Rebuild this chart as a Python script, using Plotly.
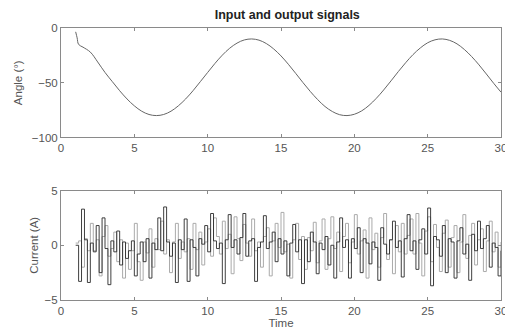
import numpy as np
import plotly.graph_objects as go
from plotly.subplots import make_subplots

# Angle signal (top)
angle_t = [1.0, 1.1, 1.2, 1.5, 2.0, 2.5, 3.0, 3.5, 4.0, 4.5, 5.0, 5.5, 6.0, 6.5, 7.0, 7.5, 8.0, 8.5,
           9.0, 9.5, 10.0, 10.5, 11.0, 11.5, 12.0, 12.5, 13.0, 13.5, 14.0, 14.5, 15.0, 15.5, 16.0,
           16.5, 17.0, 17.5, 18.0, 18.5, 19.0, 19.5, 20.0, 20.5, 21.0, 21.5, 22.0, 22.5, 23.0, 23.5,
           24.0, 24.5, 25.0, 25.5, 26.0, 26.5, 27.0, 27.5, 28.0, 28.5, 29.0, 29.5, 30.0]
angle_v = [-3.5, -9, -15, -17.5, -22, -31, -40.6, -49.0, -57.3, -64.8, -71.1, -76.0, -79.0, -80.0,
           -79.0, -76.0, -71.1, -64.8, -57.3, -49.0, -40.6, -32.3, -24.8, -18.5, -13.8, -10.9, -10.0,
           -11.1, -14.2, -19.1, -25.5, -33.1, -41.4, -49.9, -58.0, -65.4, -71.7, -76.3, -79.2, -80.0,
           -78.8, -75.7, -70.7, -64.2, -56.6, -48.3, -39.8, -31.7, -24.3, -18.2, -13.5, -10.8, -10.0,
           -11.3, -14.5, -19.6, -26.1, -33.7, -42.0, -50.5, -58.6]

# Current signals (bottom), sampled every 0.2 s from t=1 to t=30
current_t = np.round(np.arange(1.0, 30.0001, 0.2), 2)
current_dark = [
    0, -3.3, 3.3, 0.5, -3.4,
    0.2, -0.6, 1.8, -2.5, 2.5,
    -0.3, -3.6, 0.4, -0.6, 1.3,
    -1.8, 0.3, -1.2, -0.5, 0.4,
    -2.8, -0.8, 0.3, -1.5, 0.6,
    -3.0, 0.2, -0.4, 2.5, -0.5,
    3.5, 0.3, -1.0, 0.2, -3.4,
    0.5, -0.4, 2.4, -3.3, 0.5,
    -0.2, -2.8, 0.6, 0.1, 1.8,
    -0.6, 2.9, 0.4, -0.3, 0.2,
    -3.5, 0.5, 2.8, -0.2, 0.5,
    -0.8, 0.7, 2.9, -1.0, 0.4,
    0.6, -3.3, -0.2, 0.3, 2.7,
    -0.3, 0.3, 1.2, -1.5, 0.6,
    -0.8, 0.4, -2.8, 0.2, 1.9,
    -0.6, 0.5, -3.5, 0.5, -1.5,
    1.2, 0.3, -2.6, 0.2, -0.4,
    0.8, -1.8, 0.0, -3.0, 0.3,
    2.5, -0.2, 0.5, -3.0, 0.6,
    -0.3, 1.6, -2.5, 0.6, 0.2,
    -1.7, 0.3, -0.2, -3.2, 1.6,
    0.1, -0.8, 0.5, 2.2, -0.2,
    0.4, -2.9, 0.6, 2.8, -0.5,
    0.4, -2.2, 0.5, 1.5, -0.8,
    3.4, -3.7, 0.8, 0.5, -1.0,
    1.8, -2.5, 0.6, 0.3, -3.0,
    0.4, 1.6, -0.8, 0.1, -3.2,
    1.0, -0.5, 2.2, -0.3, 0.6,
    1.8, -2.0, 0.2, -0.2, -2.8,
    -0.5]
current_light = [
    0.2, 0.4, -2.0, 0.6, -0.5,
    2.0, -0.5, 0.5, -2.8, 0.8,
    1.8, -1.0, -0.3, 1.2, -1.5,
    0.5, -3.0, 0.2, -2.2, -0.5,
    2.0, -1.5, -3.2, 0.3, -0.7,
    1.5, -2.0, 0.6, -0.4, 2.2,
    -0.8, 0.5, -2.5, 0.3, 2.0,
    -1.2, 0.3, -0.6, 0.6, -2.2,
    2.0, -0.4, 1.2, -1.8, 0.3,
    1.5, -1.0, 2.5, 0.8, -0.8,
    2.2, -0.3, 1.0, -2.6, 2.6,
    0.6, -1.4, 1.9, 0.2, -1.0,
    2.4, -0.5, 0.3, -2.0, 0.8,
    1.6, -2.8, 0.4, 2.0, -0.2,
    3.0, -0.6, 0.1, -3.0, 0.5,
    2.0, -1.3, 0.8, -2.2, 0.7,
    -0.5, 2.1, -1.6, 0.4, 2.4,
    -2.2, 0.6, 2.6, -0.3, 1.2,
    -2.4, 0.8, 2.0, -1.6, 0.3,
    2.8, -0.8, 0.4, 1.4, -3.0,
    2.5, -0.4, 1.1, -2.0, 0.7,
    2.9, -1.3, 0.5, -2.6, 1.8,
    -0.6, 2.0, -0.8, 0.9, 2.4,
    -0.8, 2.9, 0.2, -2.8, 1.3,
    2.6, -1.5, 1.9, -0.2, -2.4,
    1.1, 2.3, -2.0, 0.7, 1.8,
    -2.5, 0.3, 2.8, -1.2, 0.9,
    2.0, -1.8, 0.5, 1.5, -2.4,
    0.4, 2.2, -0.6, 1.2, -2.0,
    0.3]

x_ticks = [0, 5, 10, 15, 20, 25, 30]

fig = make_subplots(rows=2, cols=1, vertical_spacing=0.195)

fig.add_trace(go.Scatter(x=angle_t, y=angle_v, mode="lines", line=dict(color="#666666", width=1, shape="spline"),
                         showlegend=False), row=1, col=1)
fig.add_trace(go.Scatter(x=current_t, y=current_light, mode="lines", line=dict(color="#aaaaaa", width=1, shape="hv"),
                         showlegend=False), row=2, col=1)
fig.add_trace(go.Scatter(x=current_t, y=current_dark, mode="lines", line=dict(color="#2a2a2a", width=0.9, shape="hv"),
                         showlegend=False), row=2, col=1)

axis_common = dict(showline=True, linecolor="#8a8a8a", linewidth=1, mirror="ticks", ticks="inside",
                   ticklen=3, tickcolor="#8a8a8a", showgrid=False, zeroline=False,
                   ticklabeloverflow="allow",
                   tickfont=dict(size=11.5, color="#555555"))

fig.update_xaxes(range=[0, 30], tickvals=x_ticks, **axis_common)
fig.update_xaxes(title=dict(text="Time", font=dict(size=11.5, color="#555555"), standoff=0), row=2, col=1)
fig.update_yaxes(range=[-100, 0], tickvals=[-100, -50, 0], row=1, col=1, **axis_common)
fig.update_yaxes(title=dict(text="Angle (°)", font=dict(size=11.5, color="#555555"), standoff=6), row=1, col=1)
fig.update_yaxes(range=[-5, 5], tickvals=[-5, 0, 5], row=2, col=1, **axis_common)
fig.update_yaxes(title=dict(text="Current (A)", font=dict(size=11.5, color="#555555"), standoff=3), row=2, col=1)

# The page body adds an 8 px margin, so the figure is sized and offset to compensate.
fig.update_layout(
    width=505, height=323,
    margin=dict(l=53, r=6, t=20, b=31),
    paper_bgcolor="white", plot_bgcolor="white",
    font=dict(family="Liberation Sans, Arial, sans-serif"),
    title=dict(text="<b>Input and output signals</b>", x=0.553, xanchor="center", y=0.981, yanchor="middle",
               font=dict(size=12.5, color="#222222")),
)

fig.write_html("out.html")
